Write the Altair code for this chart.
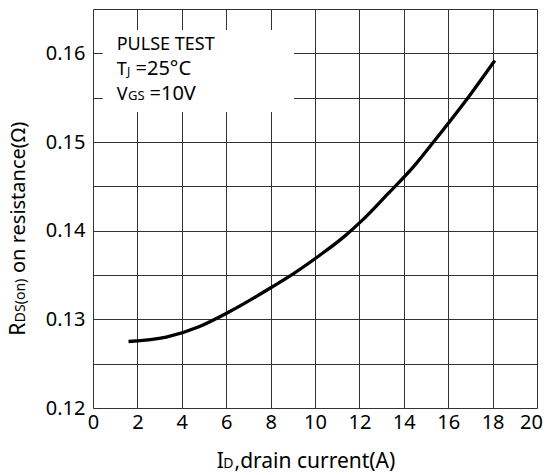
import altair as alt
import pandas as pd

# Data
current_a = [1.6, 3.3, 4.8, 6.1, 8.1, 9.0, 10.2, 11.3, 12.1, 13.3, 14.5, 15.4, 16.95, 18.1]
rds_on = [0.1275, 0.1280, 0.1292, 0.1308, 0.1337, 0.1351, 0.1372, 0.1393, 0.1411, 0.1442, 0.1474, 0.1502, 0.1552, 0.1592]
x_ticks = [0, 2, 4, 6, 8, 10, 12, 14, 16, 18, 20]
y_grid = [0.12, 0.125, 0.13, 0.135, 0.14, 0.145, 0.15, 0.155, 0.16, 0.165]

df = pd.DataFrame({"id": current_a, "r": rds_on})

FONT = "Noto Sans"
GRID = "#333333"

line = alt.Chart(df).mark_line(color="black", strokeWidth=3.3, interpolate="monotone").encode(
    x=alt.X("id:Q", scale=alt.Scale(domain=[0, 20], nice=False, zero=False),
            axis=alt.Axis(values=x_ticks, title=None, grid=True, gridColor=GRID, gridWidth=1,
                          ticks=False, domain=False, labelFont=FONT, labelFontSize=20,
                          labelColor="black", labelPadding=4, labelFlush=False,
                          labelOffset={"condition": {"test": "datum.value == 20", "value": -6}, "value": 0})),
    y=alt.Y("r:Q", scale=alt.Scale(domain=[0.12, 0.165], nice=False, zero=False),
            axis=alt.Axis(values=y_grid, title=None, grid=True, gridColor=GRID, gridWidth=1,
                          ticks=False, domain=False, labelFont=FONT, labelFontSize=20,
                          labelColor="black", labelPadding=8, labelFlush=False,
                          labelExpr="round(datum.value*1000) % 10 == 0 && datum.value < 0.164 ? format(datum.value, '.2f') : ''")),
)

one = pd.DataFrame({"k": [0]})

def txt(s, x, y, size, angle=0):
    kw = dict(font=FONT, fontSize=size, color="black", align="left", baseline="alphabetic")
    if angle:
        kw["angle"] = angle
    return alt.Chart(one).mark_text(**kw).encode(
        x=alt.value(x), y=alt.value(y), text=alt.value(s))

box = alt.Chart(one).mark_rect(color="white").encode(
    x=alt.value(9.7), x2=alt.value(201), y=alt.value(21), y2=alt.value(103))

layers = [
    line,
    box,
    txt("PULSE TEST", 23.7, 40.7, 18),
    txt("T", 23.7, 65.7, 18),
    txt("J", 34.0, 67.0, 12),
    txt("=25°C", 42.5, 65.7, 20),
    txt("V", 23.7, 90.7, 18),
    txt("GS", 35.0, 90.7, 13),
    txt("=10V", 56.5, 90.7, 20),
    # x title
    txt("I", 123.7, 459, 21),
    txt("D", 130.3, 459, 14),
    txt(",drain current(A)", 141.5, 459, 21),
    # y title (rotated)
    txt("R", -68, 326.7, 21, 270),
    txt("DS(on)", -68, 313.2, 14, 270),
    txt("on resistance(Ω)", -68, 264.0, 20, 270),
]

chart = alt.layer(*layers).properties(
    width=444, height=399,
    autosize=alt.AutoSizeParams(type="none"),
    padding={"left": 93, "top": 9, "right": 9, "bottom": 67},
).configure_view(stroke="black", strokeWidth=1.5).configure(background="white")

chart.save("out.html", embed_options={"renderer": "svg", "actions": False})
